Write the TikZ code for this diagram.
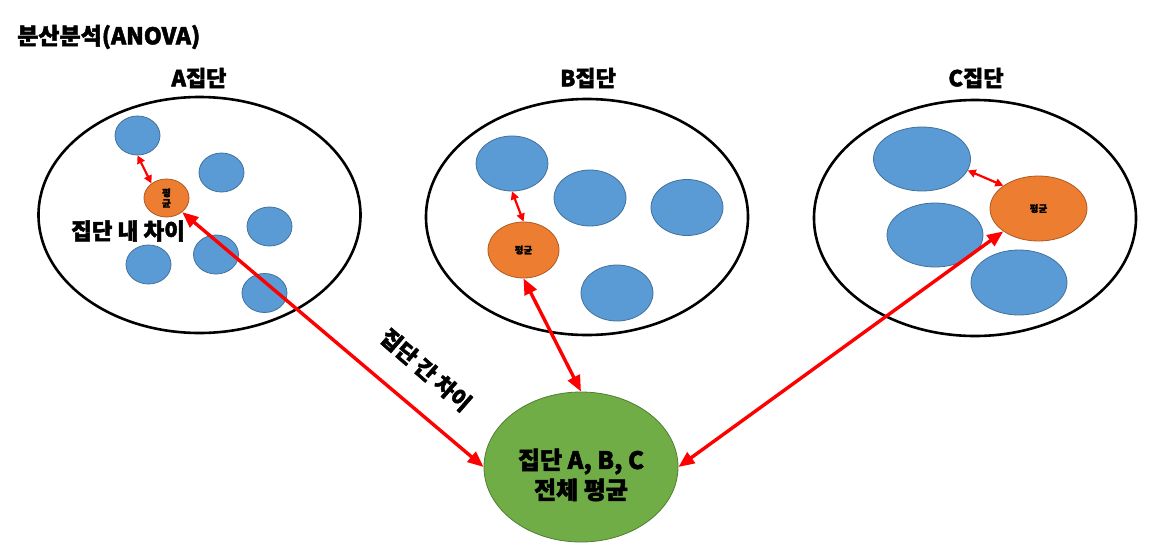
\documentclass[tikz,border=0pt]{standalone}
\usepackage{fontspec}
\setmainfont{Noto Sans CJK KR}[BoldFeatures={FakeBold=2}]
\usetikzlibrary{shapes.geometric,arrows.meta}
\definecolor{bfill}{HTML}{5B9BD5}
\definecolor{bline}{HTML}{41719C}
\definecolor{ofill}{HTML}{ED7D31}
\definecolor{oline}{HTML}{AE5A21}
\definecolor{gfill}{HTML}{70AD47}
\definecolor{gline}{HTML}{507E32}
\definecolor{rline}{HTML}{FF0000}
\tikzset{
  grp/.style={ellipse,draw=black,line width=2.6pt,fill=white,minimum width=322pt,minimum height=236pt,inner sep=0pt},
  blue/.style={ellipse,draw=bline,line width=0.8pt,fill=bfill,inner sep=0pt},
  meanbox/.style={ellipse,draw=oline,line width=0.8pt,fill=ofill,inner sep=0pt,font=\bfseries\fontsize{9.5}{10.5}\selectfont,align=center},
  bigarr/.style={draw=rline,line width=3.4pt,{Triangle[length=16pt,width=13pt]}-{Triangle[length=16pt,width=13pt]}},
  smallarr/.style={draw=rline,line width=2.2pt,{Triangle[length=8pt,width=8pt]}-{Triangle[length=8pt,width=8pt]}},
  lbl/.style={font=\bfseries\fontsize{22}{24}\selectfont,inner sep=0pt}
}
\begin{document}
\begin{tikzpicture}[x=1pt,y=-1pt]
\useasboundingbox (0,0) rectangle (1160,558);
% title
\node[lbl,anchor=west,font=\bfseries\fontsize{23}{24}\selectfont] (title) at (17,37) {분산분석(ANOVA)};
% group labels
\node[lbl] (la) at (199,78) {A집단};
\node[lbl] (lb) at (588,78) {B집단};
\node[lbl] (lc) at (976,78) {C집단};
% big ellipses
\node[grp] (GA) at (199.5,215) {};
\node[grp] (GB) at (587,217) {};
\node[grp] (GC) at (975,218) {};
% group A
\node[blue,minimum width=45pt,minimum height=39pt] (A1) at (137.5,135.5) {};
\node[blue,minimum width=45pt,minimum height=39pt] (A2) at (221.5,172.5) {};
\node[blue,minimum width=45pt,minimum height=39pt] (A3) at (269.5,226.5) {};
\node[blue,minimum width=45pt,minimum height=39pt] (A4) at (148.5,264.5) {};
\node[blue,minimum width=45pt,minimum height=39pt] (A5) at (216,254.5) {};
\node[blue,minimum width=45pt,minimum height=39pt] (A6) at (264.5,293) {};
\node[meanbox,minimum width=45pt,minimum height=38pt] (Am) at (166.5,198) {평\\균};
\node[lbl,font=\bfseries\fontsize{22.5}{24}\selectfont] (within) at (128,231) {집단 내 차이};
% group B
\node[blue,minimum width=72pt,minimum height=55pt] (B1) at (512,163.5) {};
\node[blue,minimum width=72pt,minimum height=56pt] (B2) at (590,198) {};
\node[blue,minimum width=72pt,minimum height=56pt] (B3) at (687,207.5) {};
\node[blue,minimum width=72pt,minimum height=56pt] (B4) at (617,293) {};
\node[meanbox,minimum width=71pt,minimum height=56pt] (Bm) at (523.5,250) {평균};
% group C
\node[blue,minimum width=97pt,minimum height=64pt] (C1) at (922,159) {};
\node[blue,minimum width=96pt,minimum height=64pt] (C2) at (935,235) {};
\node[blue,minimum width=96pt,minimum height=65pt] (C3) at (1019,282.5) {};
\node[meanbox,minimum width=97pt,minimum height=65pt] (Cm) at (1038.5,208.5) {평균};
% overall mean
\node[ellipse,draw=gline,line width=0.8pt,fill=gfill,minimum width=194pt,minimum height=150pt,inner sep=0pt] (G) at (581,467) {};
\node[align=center,inner sep=0pt,font=\bfseries\fontsize{24}{30}\selectfont] (Gtext) at (581,475) {집단 A, B, C\\전체 평균};
% between label
\node[lbl,rotate=-41] (between) at (426,370) {집단 간 차이};
% arrows
\draw[smallarr] (A1.south) -- (Am.136);
\draw[smallarr] (B1.south) -- (Bm.north);
\draw[smallarr] (C1.-14) -- (Cm.147);
\draw[bigarr] (Am.-42) -- (G.west);
\draw[bigarr] (Bm.south) -- (G.north);
\draw[bigarr] (Cm.213) -- (G.east);
\end{tikzpicture}
\end{document}
